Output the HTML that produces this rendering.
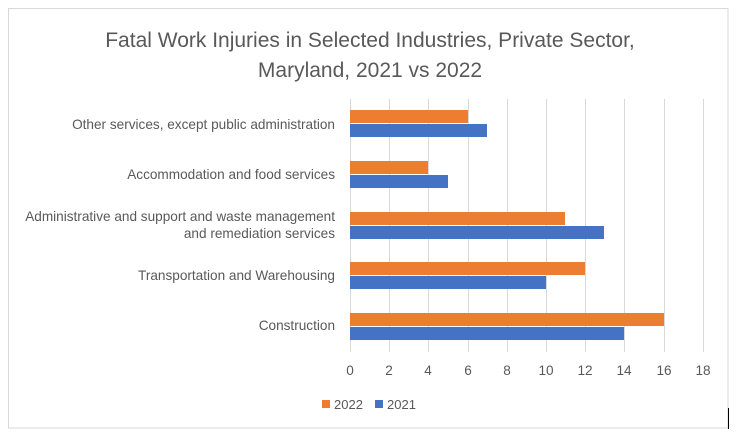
<!DOCTYPE html>
<html><head><style>body{margin:0;background:#fff}svg{display:block}</style></head><body>
<svg width="740" height="441" xmlns="http://www.w3.org/2000/svg" font-family="Liberation Sans, sans-serif">
<rect x="0" y="0" width="740" height="441" fill="#fff"/>
<rect x="8.5" y="8.5" width="719.5" height="419.5" fill="none" stroke="#d9d9d9"/>
<line x1="728.5" y1="408" x2="728.5" y2="429" stroke="#000"/>
<text x="370" y="47" text-anchor="middle" font-size="21" fill="#595959">Fatal Work Injuries in Selected Industries, Private Sector,</text>
<text x="370" y="77" text-anchor="middle" font-size="21" fill="#595959">Maryland, 2021 vs 2022</text>
<g stroke="#d9d9d9" stroke-width="1">
<line x1="350.5" y1="99" x2="350.5" y2="352"/><line x1="389.5" y1="99" x2="389.5" y2="352"/><line x1="428.5" y1="99" x2="428.5" y2="352"/><line x1="468.5" y1="99" x2="468.5" y2="352"/><line x1="507.5" y1="99" x2="507.5" y2="352"/><line x1="546.5" y1="99" x2="546.5" y2="352"/><line x1="585.5" y1="99" x2="585.5" y2="352"/><line x1="624.5" y1="99" x2="624.5" y2="352"/><line x1="664.5" y1="99" x2="664.5" y2="352"/><line x1="703.5" y1="99" x2="703.5" y2="352"/>
</g>
<g fill="#ed7d31">
<rect x="350" y="110" width="118" height="13"/><rect x="350" y="161" width="78" height="13"/><rect x="350" y="212" width="215" height="13"/><rect x="350" y="262" width="235" height="13"/><rect x="350" y="313" width="314" height="13"/>
</g>
<g fill="#4472c4">
<rect x="350" y="124" width="137" height="13"/><rect x="350" y="175" width="98" height="13"/><rect x="350" y="226" width="254" height="13"/><rect x="350" y="276" width="196" height="13"/><rect x="350" y="327" width="274" height="13"/>
</g>
<g font-size="13.6" fill="#595959" text-anchor="end">
<text x="335" y="129">Other services, except public administration</text>
<text x="335" y="179">Accommodation and food services</text>
<text x="335" y="221">Administrative and support and waste management</text>
<text x="335" y="238">and remediation services</text>
<text x="335" y="280">Transportation and Warehousing</text>
<text x="335" y="330">Construction</text>
</g>
<g font-size="13.6" fill="#595959" text-anchor="middle">
<text x="350" y="375">0</text><text x="389" y="375">2</text><text x="428" y="375">4</text><text x="468" y="375">6</text><text x="507" y="375">8</text><text x="546" y="375">10</text><text x="585" y="375">12</text><text x="624" y="375">14</text><text x="664" y="375">16</text><text x="703" y="375">18</text>
</g>
<rect x="322" y="400" width="8" height="8" fill="#ed7d31"/>
<text x="334" y="409" font-size="13" fill="#595959">2022</text>
<rect x="375" y="400" width="8" height="8" fill="#4472c4"/>
<text x="387" y="409" font-size="13" fill="#595959">2021</text>
</svg>
</body></html>
